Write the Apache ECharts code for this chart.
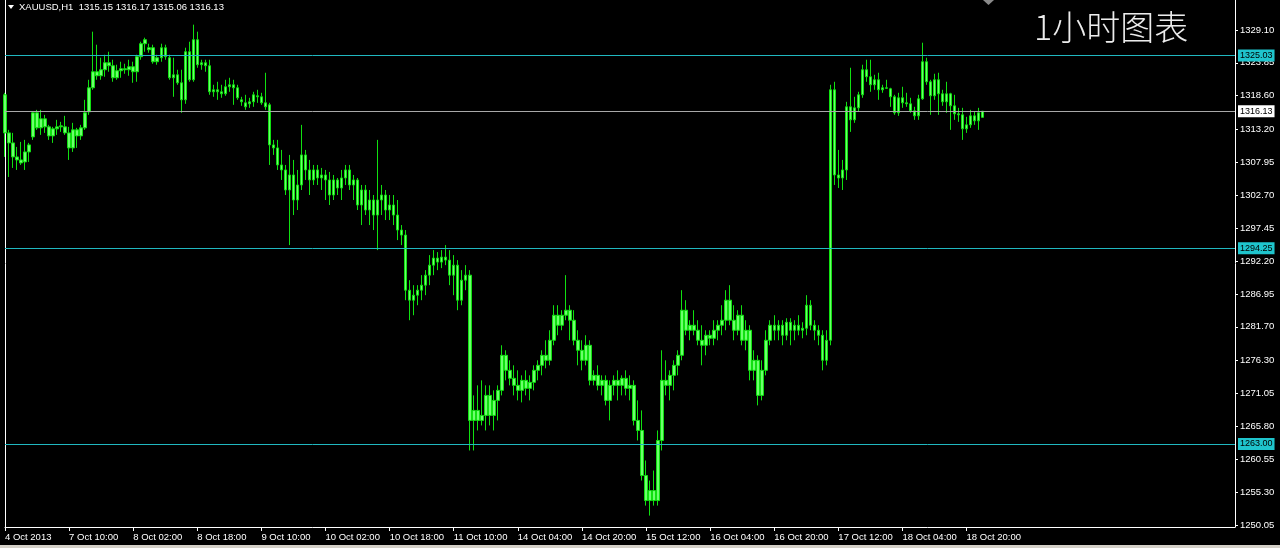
<!DOCTYPE html>
<html><head><meta charset="utf-8">
<script src="https://cdn.jsdelivr.net/npm/echarts@6/dist/echarts.min.js"></script>
<style>html,body{margin:0;padding:0;background:#000;}#c{width:1280px;height:548px;}</style>
</head><body><div id="c"></div>
<script>
// XAUUSD H1 bars (prices)
const opens = [
1318.75,1312.67,1311.07,1308.83,1308.35,1308.03,1309.63,1312.03,1315.87,1313.47,1314.91,1313.63,1312.19,1313.31,1313.63,1313.63,
1312.67,1310.27,1313.15,1312.19,1313.47,1316.03,1319.87,1322.43,1321.79,1322.75,1323.87,1323.39,1321.47,1322.59,1322.91,1322.75,
1323.23,1322.43,1324.83,1326.91,1326.27,1326.27,1324.03,1324.67,1326.27,1324.67,1321.47,1321.95,1320.67,1317.95,1325.63,1321.15,
1327.55,1323.55,1323.87,1323.39,1319.23,1319.55,1319.23,1318.91,1320.03,1320.35,1319.87,1317.95,1317.47,1317.31,1317.63,1318.59,
1318.43,1317.47,1317.15,1310.75,1310.27,1307.55,1306.75,1303.55,1305.95,1301.95,1304.35,1309.15,1306.75,1305.15,1306.75,1305.47,
1305.95,1305.15,1302.75,1305.15,1303.87,1305.47,1306.75,1304.35,1305.15,1301.15,1303.55,1300.35,1301.95,1299.55,1301.95,1302.75,
1300.35,1301.15,1299.55,1297.15,1296.35,1287.55,1285.95,1286.75,1287.55,1288.35,1289.95,1291.55,1292.67,1292.03,1292.83,1292.35,
1289.95,1291.55,1285.95,1289.15,1289.95,1266.75,1268.35,1266.75,1267.55,1270.75,1267.55,1269.95,1271.55,1277.15,1274.75,1273.47,
1272.35,1271.55,1273.15,1271.87,1272.83,1274.75,1275.55,1277.15,1276.35,1279.55,1283.55,1281.95,1283.55,1284.35,1282.75,1279.55,
1277.95,1276.35,1278.75,1273.15,1273.95,1272.35,1273.15,1269.95,1272.35,1273.15,1272.35,1273.47,1271.87,1272.35,1266.75,1265.15,
1257.95,1253.95,1255.55,1253.95,1263.55,1273.15,1272.35,1273.95,1275.55,1277.15,1284.35,1281.15,1281.95,1281.15,1279.55,1278.75,
1280.35,1279.87,1281.15,1281.95,1282.75,1285.95,1282.75,1281.15,1283.55,1279.55,1281.15,1274.75,1276.35,1270.75,1274.75,1279.55,
1281.95,1281.15,1281.95,1280.35,1282.43,1281.15,1281.95,1281.15,1281.47,1285.15,1281.95,1281.15,1280.35,1276.35,1279.55,1319.55,
1305.95,1305.47,1306.75,1316.83,1314.75,1316.67,1318.75,1322.75,1321.63,1320.35,1321.15,1319.55,1319.87,1319.71,1318.43,1315.87,
1318.27,1317.47,1317.31,1316.19,1315.39,1318.11,1324.03,1320.83,1318.59,1321.15,1318.91,1317.63,1318.91,1316.99,1315.71,1315.55,
1313.31,1313.95,1315.39,1314.59,1315.15
];
const highs = [
1319.07,1313.15,1312.67,1310.43,1311.23,1311.55,1311.07,1316.03,1316.35,1316.35,1315.55,1313.95,1313.63,1314.75,1314.43,1315.39,
1313.63,1314.27,1313.47,1313.95,1317.95,1321.15,1328.83,1326.75,1324.67,1325.15,1325.63,1324.35,1323.55,1324.03,1323.71,1324.35,
1324.03,1325.15,1327.23,1327.87,1326.91,1326.75,1325.15,1326.91,1326.75,1325.15,1324.67,1322.75,1322.75,1326.27,1327.23,1329.95,
1328.83,1324.35,1324.35,1324.35,1320.35,1320.83,1320.35,1321.15,1321.47,1321.15,1320.35,1318.43,1318.75,1318.27,1319.23,1319.55,
1319.07,1322.27,1317.47,1311.55,1311.55,1309.95,1307.55,1309.15,1308.35,1306.75,1313.95,1309.95,1308.35,1307.55,1307.55,1307.07,
1306.75,1306.43,1305.95,1305.47,1306.75,1307.55,1307.55,1305.95,1305.47,1304.35,1304.35,1303.55,1302.75,1311.55,1304.35,1303.55,
1302.75,1302.75,1301.95,1297.95,1297.15,1289.15,1288.35,1288.35,1289.95,1290.75,1293.15,1293.95,1293.63,1293.95,1294.75,1293.95,
1293.15,1292.35,1290.75,1291.55,1290.75,1270.75,1272.35,1273.15,1272.35,1272.35,1271.55,1272.35,1278.75,1277.95,1276.35,1275.55,
1274.75,1273.95,1274.75,1273.95,1275.55,1276.35,1277.95,1279.55,1281.15,1285.15,1285.15,1284.35,1289.95,1285.15,1284.35,1281.15,
1279.55,1280.35,1279.55,1274.75,1275.55,1273.95,1273.95,1273.15,1273.95,1274.75,1273.95,1274.75,1273.95,1273.15,1269.95,1268.35,
1260.35,1257.15,1258.75,1265.15,1277.95,1276.35,1274.75,1276.35,1277.95,1287.55,1285.95,1282.75,1284.35,1282.75,1281.95,1281.15,
1281.15,1282.75,1282.75,1285.15,1287.55,1288.35,1285.15,1284.35,1285.15,1282.75,1281.95,1277.95,1277.15,1276.35,1281.15,1282.75,
1283.55,1282.75,1282.75,1283.07,1283.07,1282.75,1283.55,1282.43,1286.75,1285.95,1282.75,1281.95,1281.15,1281.15,1320.35,1320.83,
1309.95,1308.35,1317.63,1323.07,1318.43,1319.23,1323.55,1324.35,1324.35,1321.95,1322.27,1320.35,1321.15,1319.87,1318.75,1319.07,
1320.03,1319.07,1318.27,1316.83,1318.75,1327.07,1324.67,1321.15,1322.11,1322.27,1319.55,1320.83,1319.07,1318.75,1316.67,1316.67,
1315.23,1316.35,1316.03,1316.67,1316.17
];
const lows = [
1308.83,1305.63,1307.07,1306.75,1307.55,1306.75,1308.03,1311.55,1313.15,1312.35,1312.67,1311.55,1311.07,1312.35,1312.83,1312.35,
1308.35,1309.63,1310.27,1311.55,1313.15,1315.55,1319.55,1321.15,1321.15,1321.63,1322.43,1320.83,1321.15,1321.47,1322.11,1321.79,
1320.67,1320.83,1324.35,1325.63,1325.47,1323.71,1323.55,1324.03,1324.35,1321.15,1318.43,1320.35,1315.87,1317.31,1320.83,1320.83,
1323.07,1322.75,1322.43,1318.75,1318.43,1317.95,1318.27,1318.59,1319.23,1317.15,1317.95,1316.99,1316.35,1316.67,1316.83,1317.47,
1317.15,1316.35,1307.55,1309.15,1306.75,1305.15,1302.75,1294.75,1299.55,1300.35,1303.55,1305.15,1302.75,1304.35,1304.35,1303.55,
1301.95,1301.15,1301.95,1302.75,1301.95,1304.35,1303.55,1301.95,1300.35,1297.95,1299.55,1297.95,1297.15,1293.95,1299.55,1298.75,
1298.75,1297.95,1295.55,1294.75,1285.95,1282.75,1283.55,1285.15,1285.95,1286.75,1288.35,1289.95,1290.75,1291.07,1291.55,1288.35,
1286.75,1284.35,1285.15,1287.55,1261.95,1261.95,1265.15,1265.95,1265.15,1265.95,1265.15,1266.75,1270.75,1273.15,1272.35,1270.75,
1269.95,1269.63,1270.75,1269.95,1271.55,1273.15,1273.95,1275.07,1275.55,1278.75,1280.35,1281.15,1282.75,1279.55,1278.75,1275.55,
1274.75,1275.55,1272.35,1272.35,1271.55,1270.75,1269.15,1266.75,1270.75,1269.95,1270.75,1270.75,1269.95,1265.95,1263.55,1257.15,
1253.15,1251.55,1253.15,1253.15,1261.95,1270.75,1269.95,1271.55,1273.95,1276.35,1280.35,1279.55,1280.35,1278.75,1275.55,1277.15,
1278.75,1278.75,1279.55,1280.35,1281.15,1281.95,1279.55,1280.35,1278.75,1277.95,1273.15,1273.15,1269.15,1269.95,1273.95,1278.75,
1279.55,1279.55,1278.75,1279.55,1278.75,1279.55,1280.35,1279.87,1280.35,1281.15,1279.55,1278.75,1274.75,1275.55,1278.75,1304.35,
1303.87,1303.55,1305.15,1312.83,1314.27,1316.03,1318.27,1320.83,1319.23,1319.55,1317.95,1319.07,1319.71,1316.83,1315.55,1315.39,
1316.67,1316.83,1315.87,1314.75,1314.75,1317.95,1320.35,1315.55,1317.95,1315.55,1316.99,1315.87,1313.15,1314.75,1314.43,1311.55,
1312.67,1313.47,1313.95,1313.15,1315.06
];
const closes = [
1312.67,1311.07,1308.83,1308.35,1307.87,1309.63,1310.75,1315.87,1313.47,1314.91,1313.63,1312.19,1313.31,1313.63,1313.79,1312.67,
1310.27,1313.15,1312.19,1313.47,1315.87,1319.87,1322.43,1321.79,1322.75,1323.87,1323.39,1321.47,1322.59,1322.91,1322.75,1323.23,
1322.43,1324.83,1326.91,1327.55,1325.95,1324.03,1324.67,1326.27,1324.83,1321.47,1321.95,1320.67,1317.95,1325.63,1321.15,1327.55,
1323.55,1323.87,1323.39,1319.23,1319.55,1319.23,1318.91,1320.03,1320.35,1319.87,1318.27,1317.63,1316.83,1317.63,1318.75,1318.43,
1317.47,1316.83,1310.75,1310.27,1307.55,1306.75,1303.55,1305.95,1301.95,1304.35,1309.15,1306.75,1305.15,1306.75,1305.47,1305.95,
1305.15,1302.75,1305.15,1303.87,1305.47,1306.75,1304.35,1305.15,1301.15,1303.55,1300.35,1301.95,1299.55,1301.95,1302.75,1300.35,
1301.15,1299.55,1297.15,1296.35,1287.55,1285.95,1286.75,1287.55,1288.35,1289.95,1291.55,1292.67,1292.03,1292.83,1292.35,1289.95,
1291.55,1285.95,1289.15,1289.95,1266.75,1268.35,1266.75,1267.55,1270.75,1267.55,1269.95,1271.55,1277.15,1274.75,1273.47,1272.35,
1271.55,1273.15,1271.87,1272.83,1274.75,1275.55,1277.15,1276.35,1279.55,1283.55,1281.95,1283.55,1284.35,1282.75,1279.55,1277.95,
1276.35,1278.75,1273.15,1273.95,1272.35,1273.15,1269.95,1272.35,1273.15,1272.35,1273.47,1271.87,1272.35,1266.75,1265.15,1257.95,
1253.95,1255.55,1253.95,1263.55,1273.15,1272.35,1273.95,1275.55,1277.15,1284.35,1281.15,1281.95,1281.15,1279.55,1278.75,1280.35,
1279.87,1281.15,1281.95,1282.75,1285.95,1282.75,1281.15,1283.55,1279.55,1281.15,1274.75,1276.35,1270.75,1274.75,1279.55,1281.95,
1281.15,1281.95,1280.35,1282.43,1281.15,1281.95,1281.15,1281.47,1285.15,1281.95,1281.15,1280.35,1276.35,1279.55,1319.55,1305.95,
1305.47,1306.75,1316.83,1314.75,1316.67,1318.75,1322.75,1321.63,1320.35,1321.15,1319.55,1319.87,1319.79,1318.43,1315.87,1318.27,
1317.47,1317.31,1316.19,1315.39,1318.11,1324.03,1320.83,1318.59,1321.15,1318.91,1317.63,1318.91,1316.99,1315.71,1315.55,1313.31,
1313.95,1315.39,1314.59,1315.87,1316.13
];
// time-axis labels, one every 16 hourly bars
const tickLabels = ['4 Oct 2013','7 Oct 10:00','8 Oct 02:00','8 Oct 18:00','9 Oct 10:00','10 Oct 02:00','10 Oct 18:00','11 Oct 10:00',
  '14 Oct 04:00','14 Oct 20:00','15 Oct 12:00','16 Oct 04:00','16 Oct 20:00','17 Oct 12:00','18 Oct 04:00','18 Oct 20:00'];
const priceTicks = [1329.10,1323.85,1318.60,1313.20,1307.95,1302.70,1297.45,1292.20,1286.95,1281.70,1276.30,1271.05,1265.80,1260.55,1255.30,1250.05];
const levels = [1325.03, 1294.25, 1263.00];
const lastPrice = 1316.13;
const headerText = 'XAUUSD,H1  1315.15 1316.17 1315.06 1316.13';
const chartTitle = '1小时图表';

const LABEL_STEP = 16;
const SLOTS = 308; // bars + empty chart-shift space on the right
const categories = Array.from({length: SLOTS}, (_, i) => String(i));
const candles = opens.map((o, i) => [o, closes[i], lows[i], highs[i]]);
const showTick = (i) => i % LABEL_STEP === 0 && (i / LABEL_STEP) < tickLabels.length;

const chart = echarts.init(document.getElementById('c'), null, {renderer: 'canvas'});
const FONT = '"Liberation Sans", Arial, sans-serif';
const cyanLabel = {show: true, position: 'end', distance: 3, formatter: p => Number(p.value).toFixed(2),
  color: '#000', backgroundColor: '#1fc4cc', fontFamily: FONT, fontSize: 9, padding: [2, 2, 1, 2]};
chart.setOption({
  animation: false,
  backgroundColor: '#000',
  grid: {left: 5, right: 45, top: 0, bottom: 21},
  xAxis: {
    type: 'category', data: categories, boundaryGap: false,
    axisLine: {lineStyle: {color: '#fff', width: 1}},
    axisTick: {show: true, interval: showTick, length: 4, lineStyle: {color: '#fff'}},
    axisLabel: {interval: showTick, align: 'left', margin: 5, color: '#fff', fontFamily: FONT, fontSize: 9.5,
      formatter: (v, i) => tickLabels[i / LABEL_STEP] || ''},
    splitLine: {show: false}
  },
  yAxis: [{
    type: 'value', position: 'right', min: 1249.73, max: 1333.89, scale: true,
    axisLine: {show: true, lineStyle: {color: '#fff'}},
    axisTick: {show: true, length: 3, lineStyle: {color: '#fff'}, customValues: priceTicks},
    axisLabel: {color: '#fff', fontFamily: FONT, fontSize: 9.5, margin: 5, customValues: priceTicks,
      formatter: v => Number(v).toFixed(2)},
    splitLine: {show: false}
  }, {
    type: 'value', position: 'left', min: 1249.73, max: 1333.89,
    axisLine: {show: true, lineStyle: {color: '#fff'}},
    axisTick: {show: false}, axisLabel: {show: false}, splitLine: {show: false}
  }],
  series: [{
    type: 'candlestick', data: candles, barWidth: 3, yAxisIndex: 0,
    itemStyle: {color: '#6dff6d', color0: '#6dff6d', borderColor: '#10e010', borderColor0: '#10e010', borderWidth: 1},
    markLine: {
      symbol: 'none', silent: true, animation: false,
      data: levels.map(v => ({yAxis: v, lineStyle: {color: '#20b8c0', width: 1, type: 'solid'}, label: cyanLabel}))
        .concat([{yAxis: lastPrice, lineStyle: {color: '#a8a8a8', width: 1, type: 'solid'},
          label: Object.assign({}, cyanLabel, {backgroundColor: '#fff', color: '#000'})}])
    }
  }],
  graphic: [
    {type: 'polygon', shape: {points: [[8, 5], [14, 5], [11, 9]]}, style: {fill: '#fff'}},
    {type: 'text', left: 19, top: 2, style: {text: headerText, fill: '#fff', font: '9.5px ' + FONT}},
    {type: 'text', left: 1034, top: 10, style: {text: chartTitle, fill: '#ececec', font: '300 34px "Noto Sans CJK SC"'}},
    {type: 'polygon', shape: {points: [[983, 0], [994, 0], [988.5, 5]]}, style: {fill: '#8a8a8a'}},
    {type: 'rect', shape: {x: 0, y: 545, width: 1280, height: 3}, style: {fill: '#d4d0c8'}}
  ]
});
</script></body></html>
